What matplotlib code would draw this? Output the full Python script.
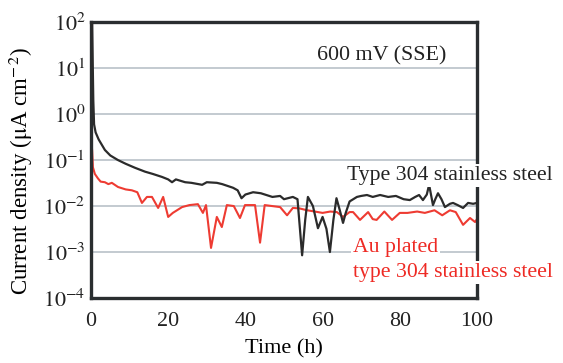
import matplotlib
matplotlib.use('Agg')
import matplotlib.pyplot as plt

plt.rcParams['font.family'] = ['Liberation Serif', 'DejaVu Serif']
plt.rcParams['mathtext.fontset'] = 'stix'

# Type 304 stainless steel (black)
t_ss = [0.0, 0.3, 0.6, 0.8, 1.2, 2, 3.6, 5, 7, 9, 11.4, 14, 16, 18.4, 20, 21, 22, 24.4,
        26, 28.8, 30, 32.6, 34, 36.8, 38, 39, 40, 42, 44, 47, 49, 50, 52.3, 53.5, 54.7,
        55.5, 56.2, 57.5, 58.8, 60, 61, 61.9, 62.8, 63.6, 64.5, 65.3, 66, 67, 68.9, 70,
        71.5, 73, 74.9, 77, 79, 81, 82.6, 84, 85, 86, 87, 87.6, 88.2, 88.6, 89.2, 89.9,
        90.8, 91.7, 93, 93.8, 95, 96.4, 97.7, 99, 100]
i_ss = [100, 90, 2.0, 0.6, 0.40, 0.28, 0.166, 0.126, 0.10, 0.083, 0.068, 0.056, 0.050,
        0.043, 0.038, 0.033, 0.038, 0.033, 0.032, 0.029, 0.033, 0.032, 0.030, 0.025, 0.022,
        0.0148, 0.0178, 0.020, 0.019, 0.0158, 0.0166, 0.0141, 0.0158, 0.0141, 0.00085,
        0.005, 0.0158, 0.010, 0.0033, 0.0058, 0.0032, 0.0010, 0.005, 0.0148, 0.0079,
        0.0043, 0.0071, 0.0126, 0.0158, 0.0166, 0.0174, 0.0158, 0.0174, 0.0158, 0.0166,
        0.0141, 0.0135, 0.0158, 0.0174, 0.0135, 0.0178, 0.029, 0.0158, 0.0105, 0.0141,
        0.019, 0.0141, 0.0095, 0.0112, 0.0117, 0.0105, 0.0091, 0.0117, 0.0112, 0.0117]

# Au plated type 304 stainless steel (red)
t_au = [0.0, 0.3, 0.5, 1, 1.8, 2.5, 3.6, 4.5, 5.4, 7, 9, 10.6, 12, 13.2, 14.5, 15.8,
        17.4, 18.7, 20, 21.2, 23.6, 25.5, 27.7, 29, 29.8, 31.1, 32.6, 33.9, 35.2, 37,
        38.6, 39.9, 42.5, 43.8, 45, 49, 50.8, 52.3, 54, 56, 58, 60, 62, 63.7, 65.3, 67,
        67.9, 69.7, 71.8, 73, 74, 76, 78, 80, 82, 84.5, 86.5, 89, 91, 93, 94.5, 96.4,
        98.2, 99.5, 100]
i_au = [0.32, 0.16, 0.070, 0.050, 0.040, 0.034, 0.033, 0.030, 0.032, 0.026, 0.023,
        0.022, 0.020, 0.0117, 0.0158, 0.0158, 0.0091, 0.0158, 0.0058, 0.0071, 0.0095,
        0.0105, 0.011, 0.0071, 0.0105, 0.00123, 0.0058, 0.0035, 0.0105, 0.010, 0.0055,
        0.0105, 0.0105, 0.0016, 0.0105, 0.0095, 0.0063, 0.0091, 0.0089, 0.0081, 0.0076,
        0.0071, 0.0076, 0.0074, 0.0058, 0.0074, 0.0074, 0.005, 0.0074, 0.0052, 0.005,
        0.0076, 0.005, 0.0071, 0.0071, 0.0076, 0.0071, 0.0081, 0.0063, 0.0081, 0.0074,
        0.0039, 0.0055, 0.0045, 0.0052]

x_ticks = [0, 20, 40, 60, 80, 100]
y_ticks = [1e-4, 1e-3, 1e-2, 1e-1, 1e0, 1e1, 1e2]
y_labels = [r'$10^{-4}$', r'$10^{-3}$', r'$10^{-2}$', r'$10^{-1}$', r'$10^{0}$',
            r'$10^{1}$', r'$10^{2}$']

fig = plt.figure(figsize=(5.63, 3.63), dpi=100)
ax = fig.add_axes([0.1616, 0.179, 0.6856, 0.760])

ax.plot(t_ss, i_ss, color='#2b2b2b', lw=1.6, zorder=3)
ax.plot(t_au, i_au, color='#ee3b32', lw=1.5, zorder=2)

ax.set_yscale('log')
ax.set_xlim(0, 100)
ax.set_ylim(1e-4, 1e2)
ax.set_xticks(x_ticks)
ax.set_yticks(y_ticks)
ax.set_yticklabels(y_labels)
ax.minorticks_off()
ax.tick_params(length=0, labelsize=15.8, colors='#222222')
ax.tick_params(axis='x', pad=10)
ax.tick_params(axis='y', pad=4)
ax.yaxis.grid(True, color='#b9c1c8', lw=1.2)
ax.set_axisbelow(True)

for s in ax.spines.values():
    s.set_linewidth(2.4)
    s.set_color('#2a2e30')

ax.set_xlabel('Time (h)', fontsize=16, labelpad=6)
ax.set_ylabel(r'Current density ($\mathrm{\mu}$A cm$^{-\,2}$)', fontsize=16.5)
ax.yaxis.set_label_coords(-0.145, 0.46)

box = dict(facecolor='white', edgecolor='none', pad=1.5)
ax.text(0.585, 0.862, '600 mV (SSE)', transform=ax.transAxes, fontsize=15.8,
        color='#222222')
ax.text(0.663, 0.4275, 'Type 304 stainless steel', transform=ax.transAxes,
        fontsize=15.7, color='#222222', bbox=box, zorder=10, clip_on=False)
ax.text(0.679, 0.1667, 'Au plated', transform=ax.transAxes, fontsize=15.7,
        color='#ee2a24', bbox=box, zorder=10, clip_on=False)
ax.text(0.679, 0.076, 'type 304 stainless steel', transform=ax.transAxes,
        fontsize=15.7, color='#ee2a24', bbox=box, zorder=10, clip_on=False)

fig.savefig('out.png', dpi=100)
